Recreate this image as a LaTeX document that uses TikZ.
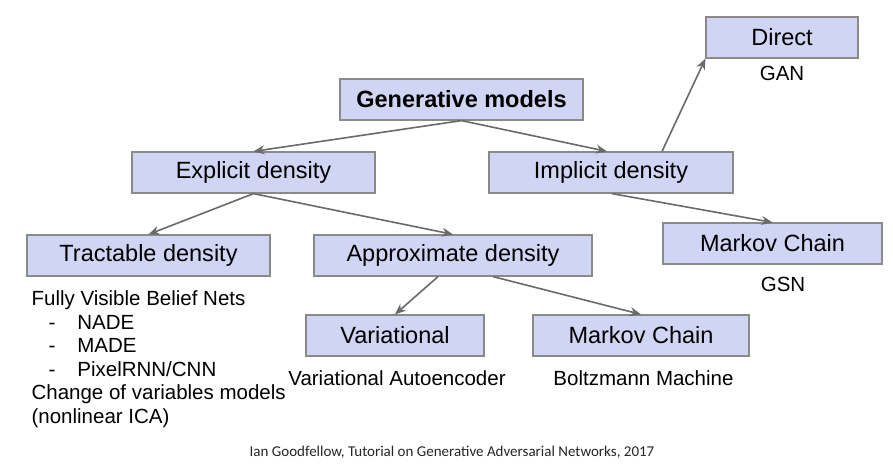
\documentclass[tikz,border=0pt]{standalone}
\usepackage{fontspec}
\setmainfont{Liberation Sans}
\newfontfamily\capfont{Carlito}
\usetikzlibrary{arrows.meta,positioning}
\definecolor{boxfill}{HTML}{CFD5F3}
\definecolor{boxline}{HTML}{8A8A8A}
\definecolor{arrgray}{HTML}{6A6A6A}
\tikzset{
  box/.style={draw=boxline,fill=boxfill,line width=1.2pt,inner sep=0pt,
    minimum height=41pt,font=\fontsize{23.5}{27}\selectfont},
  sub/.style={inner sep=0pt,font=\fontsize{20.5}{24}\selectfont},
  arr/.style={draw=arrgray,line width=1.6pt,-{Stealth[length=11pt,width=9pt]}}
}
\begin{document}
\begin{tikzpicture}[x=1pt,y=-1pt]
\useasboundingbox[fill=white] (0,0) rectangle (893,467);

\node (gen) at (461.5,99.5) [box,minimum width=243pt] {\textbf{Generative models}};
\node (explicit) at (253.5,172.5) [box,minimum width=243pt] {Explicit density};
\node (implicit) at (611,172.5) [box,minimum width=244pt] {Implicit density};
\node (direct) at (782,37.5) [box,minimum width=152pt] {Direct};
\node (tractable) at (148.5,255.5) [box,minimum width=243pt] {Tractable density};
\node (approx) at (453,255.5) [box,minimum width=278pt] {Approximate density};
\node (mcgsn) at (772.5,243.5) [box,minimum width=219pt] {Markov Chain};
\node (variational) at (395,335.5) [box,minimum width=178pt] {Variational};
\node (mcbm) at (641,335.5) [box,minimum width=216pt] {Markov Chain};

\node (gan) at (782,73) [sub] {GAN};
\node (gsn) at (783,284) [sub] {GSN};
\node (vae) at (397,378) [sub] {Variational Autoencoder};
\node (bm) at (643.5,378) [sub] {Boltzmann Machine};
\node (fvbn) [sub,below right=14pt and 5pt of tractable.south west,anchor=north west,align=left,
  font=\fontsize{20.5}{23.5}\selectfont] {Fully Visible Belief Nets\\
  \hspace*{17pt}-\hspace*{22pt}NADE\\
  \hspace*{17pt}-\hspace*{22pt}MADE\\
  \hspace*{17pt}-\hspace*{22pt}PixelRNN/CNN\\
  Change of variables models\\
  (nonlinear ICA)};

\node (cap) at (452,452) [inner sep=0pt,text=black!85,font=\capfont\fontsize{15}{18}\selectfont]
  {Ian Goodfellow, Tutorial on Generative Adversarial Networks, 2017};

% start points off the middle of a side
\coordinate (s0) at ([xshift=51pt]implicit.north);
\coordinate (s1) at ([xshift=1pt]implicit.south);
\coordinate (s2) at ([xshift=-15pt]approx.south);
\coordinate (s3) at ([xshift=40pt]approx.south);
\coordinate (t0) at ([xshift=-4pt]implicit.north);

\foreach \a/\b in {gen.south/explicit.north, gen.south/t0, explicit.south/tractable.north,
  explicit.south/approx.north, s0/direct.south west, s1/mcgsn.north,
  s2/variational.north, s3/mcbm.north} {
\draw[arr] (\a) -- (\b);
};
\end{tikzpicture}
\end{document}
